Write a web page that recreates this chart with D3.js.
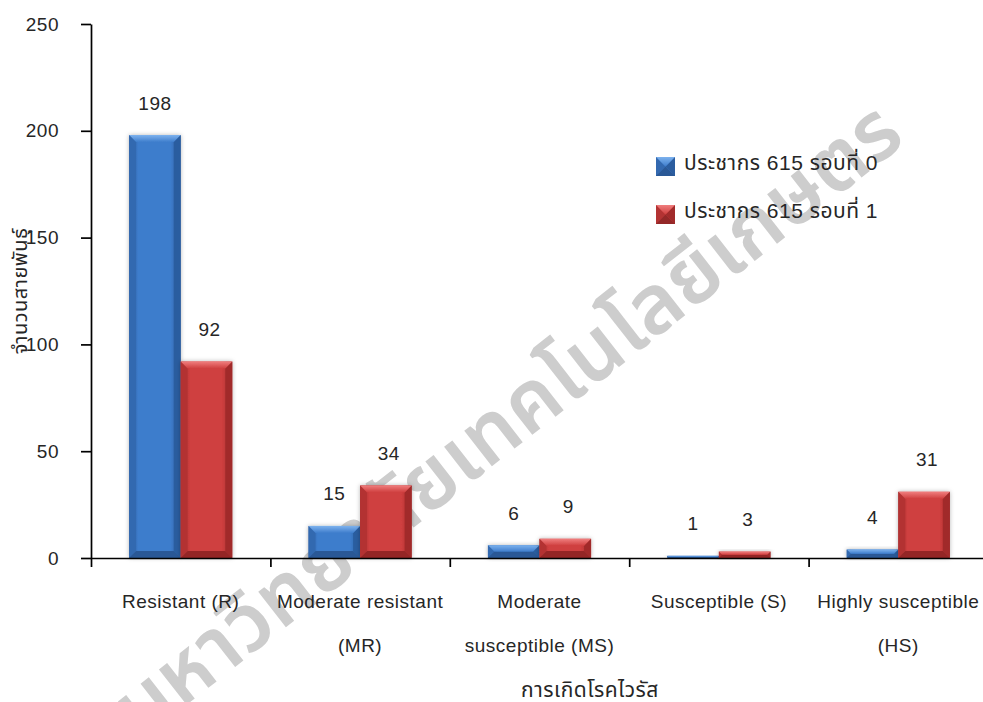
<!DOCTYPE html>
<html>
<head>
<meta charset="utf-8">
<script src="https://cdn.jsdelivr.net/npm/d3@7"></script>
<style>
  html, body { margin: 0; padding: 0; background: #ffffff; }
  svg { display: block; }
  text { font-family: "Liberation Sans", Arial, "Noto Sans Thai", "Noto Sans", sans-serif; fill: #262626; letter-spacing: 0.5px; }
</style>
</head>
<body>
<svg id="chart" width="983" height="702"></svg>
<script>
// Disease reaction classes (category axis, one or two label lines each)
const categories = ["R", "MR", "MS", "S", "HS"];
const categoryLines = [
  ["Resistant (R)"],
  ["Moderate resistant", "(MR)"],
  ["Moderate", "susceptible (MS)"],
  ["Susceptible (S)"],
  ["Highly susceptible", "(HS)"]
];

// Number of lines per class, for each population cycle
const seriesNames = ["ประชากร 615 รอบที่ 0", "ประชากร 615 รอบที่ 1"];
const cycle0 = [198, 15, 6, 1, 4];
const cycle1 = [92, 34, 9, 3, 31];

const yTicks = [0, 50, 100, 150, 200, 250];
const yTitle = "จำนวนสายพันธุ์";
const xTitle = "การเกิดโรคไวรัส";
const watermark = "มหาวิทยาลัยเทคโนโลยีเกษตร";

const seriesValues = [cycle0, cycle1];

// Bar shading: base, dark edge, light top bevel, darker bottom
const palettes = [
  { base: "#3e7dcc", edge: "#2b5d9f", top: "#7db2ee", side: "#3369b0", bottom: "#2a5896" },
  { base: "#cf3f3f", edge: "#a12b2b", top: "#f07e7e", side: "#b33333", bottom: "#942828" }
];

const svg = d3.select("#chart");
const defs = svg.append("defs");

palettes.forEach((p, i) => {
  const g = defs.append("linearGradient").attr("id", "face" + i)
    .attr("x1", "0").attr("x2", "1").attr("y1", "0").attr("y2", "0");
  g.append("stop").attr("offset", "0%").attr("stop-color", p.edge);
  g.append("stop").attr("offset", "18%").attr("stop-color", p.base);
  g.append("stop").attr("offset", "80%").attr("stop-color", p.base);
  g.append("stop").attr("offset", "100%").attr("stop-color", p.edge);
  const t = defs.append("linearGradient").attr("id", "top" + i)
    .attr("x1", "0").attr("x2", "0").attr("y1", "0").attr("y2", "1");
  t.append("stop").attr("offset", "0%").attr("stop-color", p.top);
  t.append("stop").attr("offset", "100%").attr("stop-color", p.base);
});

const shadow = defs.append("filter").attr("id", "shadow")
  .attr("x", "-30%").attr("y", "-30%").attr("width", "160%").attr("height", "160%");
shadow.append("feDropShadow").attr("dx", 0).attr("dy", 0)
  .attr("stdDeviation", 2.2).attr("flood-color", "#000").attr("flood-opacity", 0.28);

// Watermark, behind everything
svg.append("text")
  .attr("transform", "translate(892,122) rotate(-38)")
  .attr("text-anchor", "end")
  .attr("dominant-baseline", "central")
  .style("font-family", "'Noto Sans Thai', 'Noto Sans', 'DejaVu Sans', sans-serif")
  .style("font-size", "82px")
  .style("font-weight", "600")
  .style("letter-spacing", "0px")
  .style("fill", "#cdcdcd")
  .text(watermark);

// Scales
const plotLeft = 91, plotTop = 24, plotBottom = 558, groupWidth = 179.4;
const x = d3.scaleBand().domain(categories)
  .range([plotLeft, plotLeft + groupWidth * categories.length]).padding(0);
const xInner = d3.scaleBand().domain(d3.range(seriesNames.length))
  .range([0, x.bandwidth()]).paddingOuter(0.74).paddingInner(0);
const y = d3.scaleLinear().domain([0, 250]).range([plotBottom, plotTop]);

// Bevelled bar drawing
function bevelBar(g, x0, y0, w, h, si, b) {
  b = Math.min(b, h / 2, w / 2);
  const p = palettes[si];
  g.append("rect").attr("x", x0).attr("y", y0).attr("width", w).attr("height", h)
    .attr("fill", `url(#face${si})`);
  const poly = (pts, fill) => g.append("polygon")
    .attr("points", pts.map(d => d.join(",")).join(" ")).attr("fill", fill);
  poly([[x0, y0], [x0 + b, y0 + b], [x0 + b, y0 + h - b], [x0, y0 + h]], p.side);
  poly([[x0 + w, y0], [x0 + w - b, y0 + b], [x0 + w - b, y0 + h - b], [x0 + w, y0 + h]], p.edge);
  poly([[x0, y0 + h], [x0 + b, y0 + h - b], [x0 + w - b, y0 + h - b], [x0 + w, y0 + h]], p.bottom);
  poly([[x0, y0], [x0 + w, y0], [x0 + w - b, y0 + b], [x0 + b, y0 + b]], `url(#top${si})`);
}

// Bars
const barLayer = svg.append("g");
categories.forEach((c, ci) => {
  seriesValues.forEach((vals, si) => {
    const v = vals[ci];
    const bx = x(c) + xInner(si);
    const by = y(v);
    const g = barLayer.append("g").attr("filter", "url(#shadow)");
    bevelBar(g, bx, by, xInner.bandwidth(), y(0) - by, si, 7);
  });
});

// Value labels
categories.forEach((c, ci) => {
  seriesValues.forEach((vals, si) => {
    const v = vals[ci];
    svg.append("text")
      .attr("x", x(c) + xInner(si) + xInner.bandwidth() / 2 + (si === 1 ? 3 : 0))
      .attr("y", y(v) - 32)
      .attr("text-anchor", "middle")
      .attr("dominant-baseline", "central")
      .style("font-size", "19px")
      .text(v);
  });
});

// Y axis
const yAxis = svg.append("g").attr("transform", `translate(${plotLeft},0)`)
  .call(d3.axisLeft(y).tickValues(yTicks).tickSize(10).tickSizeOuter(0).tickPadding(22));
yAxis.selectAll("text").style("font-size", "19px").style("fill", "#262626")
  .style("font-family", "'Liberation Sans', Arial, sans-serif");
yAxis.selectAll("line, path").attr("stroke", "#000").attr("stroke-width", 1.7);

// X axis: ticks at the class boundaries
const xEdge = d3.scaleLinear().domain([0, categories.length])
  .range([plotLeft, plotLeft + groupWidth * categories.length]);
const xAxis = svg.append("g").attr("transform", `translate(0,${plotBottom})`)
  .call(d3.axisBottom(xEdge).tickValues(d3.range(categories.length + 1))
    .tickSize(9).tickSizeOuter(0).tickFormat(""));
xAxis.selectAll("line, path").attr("stroke", "#000").attr("stroke-width", 1.7);

// Category labels
categories.forEach((c, ci) => {
  categoryLines[ci].forEach((line, li) => {
    svg.append("text")
      .attr("x", x(c) + x.bandwidth() / 2)
      .attr("y", 601 + li * 44)
      .attr("text-anchor", "middle")
      .attr("dominant-baseline", "central")
      .style("font-size", "19px")
      .text(line);
  });
});

// Axis titles
svg.append("text")
  .attr("x", 590).attr("y", 689)
  .attr("text-anchor", "middle").attr("dominant-baseline", "central")
  .style("font-size", "21px")
  .text(xTitle);

svg.append("text")
  .attr("transform", "translate(20,291) rotate(-90)")
  .attr("text-anchor", "middle").attr("dominant-baseline", "central")
  .style("font-size", "20px")
  .text(yTitle);

// Legend
const legend = svg.append("g");
seriesNames.forEach((name, si) => {
  const ly = 157 + si * 48;
  const g = legend.append("g");
  bevelBar(g, 656, ly, 19, 19, si, 9.5);
  legend.append("text")
    .attr("x", 684).attr("y", ly + 5)
    .attr("dominant-baseline", "central")
    .style("font-size", "21px")
    .text(name);
});
</script>
</body>
</html>
